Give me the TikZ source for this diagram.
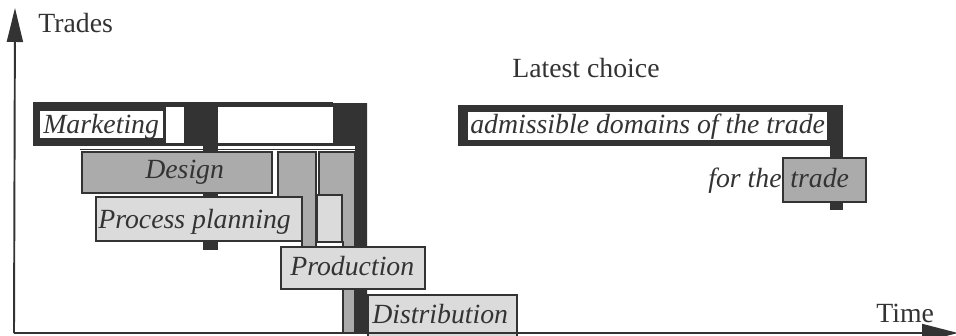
\documentclass[tikz,border=0pt]{standalone}
\usepackage{fontspec}
\setmainfont{Liberation Serif}
\usepackage{tikz}
\usetikzlibrary{arrows.meta}
\definecolor{ink}{gray}{0.2}
\definecolor{midgrey}{gray}{0.67}
\definecolor{lightgrey}{gray}{0.86}

\begin{document}
\begin{tikzpicture}[x=0.02cm,y=-0.02cm,
	txt/.style={font=\fontsize{15.8}{19}\selectfont, text=ink, anchor=base west},
	lbl/.style={txt, font=\fontsize{15.8}{19}\selectfont\itshape},
	box/.style={draw=ink, line width=0.7pt},
	greybox/.style={box, fill=midgrey},
	lightbox/.style={box, fill=lightgrey},
	axis/.style={ink, line width=1.1pt}]
	\tikzstyle{every node}+=[inner sep=0pt]
	\useasboundingbox (0,0) rectangle (956,335);

	% latest choice bar of marketing
	\fill [ink] (333,103) -- (367,103) -- (367,333) -- (355,333) -- (355,150) -- (333,150) -- cycle;
	% marketing domain with its windows
	\fill [ink] (33,102) rectangle (333,146);
	\fill [white] (166,107) rectangle (184,143);
	\fill [white] (218,107) rectangle (333,143);
	\fill [white] (40,111) rectangle (163,138);
	\node [lbl] (mkt) at (43,133) {Marketing};

	% design domain
	\fill [white] (80,146) rectangle (355,250);
	\draw [ink, line width=0.5pt] (80,149) -- (355,149);
	\fill [ink] (203,146) rectangle (218,250);
	\draw [greybox] (82,152) rectangle (272,193);
	\node [lbl] (design) at (145,178) {Design};
	\draw [greybox] (278,152) -- (316,152) -- (316,250) -- (302,250) -- (302,200) -- (278,200) -- cycle;
	\draw [greybox] (319,152) -- (355,152) -- (355,333) -- (343,333) -- (343,242) -- (319,242) -- cycle;

	% process planning
	\draw [lightbox] (96,197) rectangle (302,241);
	\node [lbl] (plan) at (98,228) {Process planning};
	\draw [lightbox] (317,195) rectangle (342,242);

	% production and distribution
	\draw [lightbox] (281,247) rectangle (425,289);
	\node [lbl] (prod) at (290,275) {Production};
	\draw [lightbox] (368,295) rectangle (517,345);
	\node [lbl] (dist) at (372,323) {Distribution};

	% key
	\node [txt] (latest) at (512,77) {Latest choice};
	\fill [ink] (830,105) rectangle (843,210);
	\fill [ink] (458,105) rectangle (843,146);
	\fill [white] (468,112) rectangle (827,140);
	\node [lbl] (adm) at (470,133) {admissible domains of the trade};
	\draw [greybox] (783,158) rectangle (866,202);
	\node [lbl] (forthe) at (708,187) {for the};
	\node [lbl] (trade) at (790,187) {trade};

	% axes
	\coordinate (O) at (14,333);
	\coordinate (ytop) at (15,8);
	\coordinate (xend) at (958,333);
	\draw [axis, -{Triangle[length=0.68cm,width=0.32cm]}] (O) -- (ytop);
	\draw [axis, -{Triangle[length=0.72cm,width=0.36cm]}] (O) -- (xend);
	\node [txt] (trades) at (38,32) {Trades};
	\node [txt] (time) at (876,322) {Time};
\end{tikzpicture}
\end{document}
